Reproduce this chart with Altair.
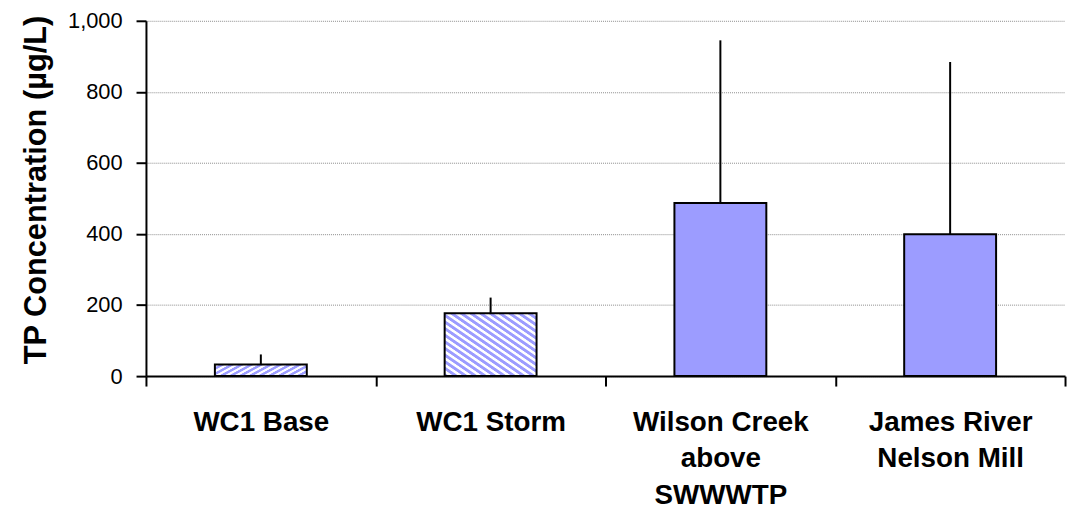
import altair as alt
import pandas as pd

# ---- data ----
sites = ["WC1 Base", "WC1 Storm", "Wilson Creek\nabove\nSWWWTP", "James River\nNelson Mill"]
tp_mean = [33, 177, 487, 399]
tp_upper = [61, 221, 945, 884]
striped_sites = sites[:2]

df = pd.DataFrame({"site": sites, "mean": tp_mean, "upper": tp_upper})

W, H = 926, 358
BAR_FRAC = 0.4
bar_w = W / len(sites) * BAR_FRAC

# diagonal hatch (\\\) as a many-stop linear gradient
n_per = int(round(2 * bar_w / 9.5))
stripe_blue = "#9c9cff"
stops = []
for k in range(n_per):
    stops += [
        alt.GradientStop(offset=k / n_per, color=stripe_blue),
        alt.GradientStop(offset=(k + 0.40) / n_per, color=stripe_blue),
        alt.GradientStop(offset=(k + 0.55) / n_per, color="#ffffff"),
        alt.GradientStop(offset=(k + 0.88) / n_per, color="#ffffff"),
    ]
stops.append(alt.GradientStop(offset=1.0, color=stripe_blue))
hatch = alt.LinearGradient(gradient="linear", stops=stops, x1=0, y1=1, x2=1, y2=0)

x_enc = alt.X(
    "site:N",
    sort=None,
    title=None,
    scale=alt.Scale(paddingInner=0, paddingOuter=0),
    axis=alt.Axis(
        labelAngle=0,
        labelFontSize=28,
        labelFontWeight="bold",
        labelLineHeight=36.5,
        labelPadding=23,
        labelLimit=0,
        labelExpr="split(datum.label, '\\n')",
        tickBand="extent",
        grid=False,
        labelColor="black",
    ),
)
y_enc = alt.Y(
    "mean:Q",
    title="TP Concentration (µg/L)",
    scale=alt.Scale(domain=[0, 1000], nice=False),
    axis=alt.Axis(
        values=[0, 200, 400, 600, 800, 1000],
        format=",d",
        labelFontSize=22,
        labelPadding=14,
        titleFontSize=31,
        titleFontWeight="bold",
        titlePadding=15,
        titleY=170,
        grid=True,
        gridColor="#8c8c8c",
        gridDash=[1, 1],
        gridWidth=1,
        labelColor="black",
        titleColor="black",
    ),
)

base = alt.Chart(df)

bars_hatch = base.transform_filter(
    alt.FieldOneOfPredicate(field="site", oneOf=striped_sites)
).mark_bar(
    width=alt.RelativeBandSize(BAR_FRAC), fill=hatch, stroke="black", strokeWidth=2
).encode(x=x_enc, y=y_enc)

bars_dot = base.transform_filter(
    ~alt.FieldOneOfPredicate(field="site", oneOf=striped_sites)
).mark_bar(
    width=alt.RelativeBandSize(BAR_FRAC), fill="#9c9cff", stroke="black", strokeWidth=2
).encode(x=x_enc, y=y_enc)

err = base.mark_rule(color="black", strokeWidth=2).encode(
    x=alt.X("site:N", sort=None), y="mean:Q", y2="upper:Q"
)

chart = (
    alt.layer(bars_hatch, bars_dot, err)
    .properties(
        width=W,
        height=H,
        autosize=alt.AutoSizeParams(type="none"),
        padding={"left": 139, "top": 11, "right": 3, "bottom": 133},
        background="white",
    )
    .configure(font="Liberation Sans")
    .configure_view(stroke=None)
    .configure_axis(
        domainColor="black",
        domainWidth=2,
        tickColor="black",
        tickWidth=2,
        tickSize=10,
    )
)

chart.save("out.html", embed_options={"renderer": "svg", "actions": False})
